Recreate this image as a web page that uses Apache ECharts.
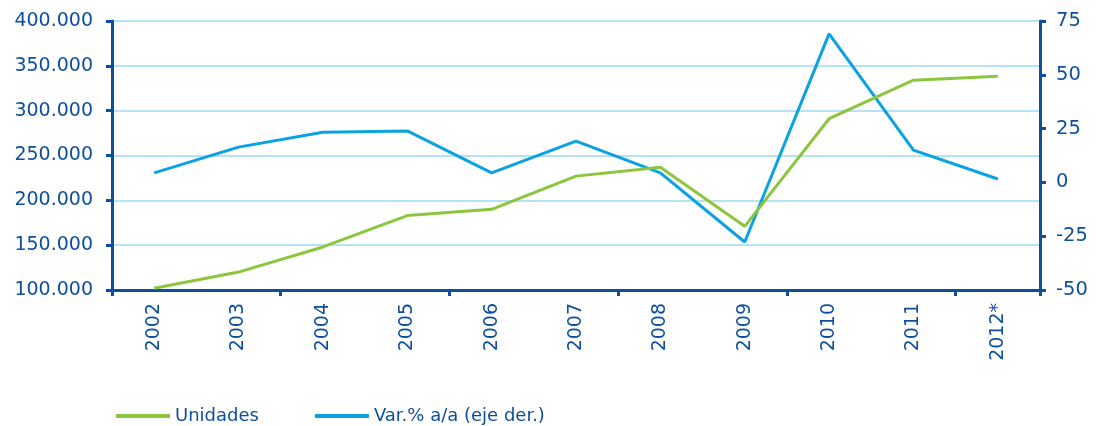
<!DOCTYPE html>
<html>
<head>
<meta charset="utf-8">
<script src="https://cdn.jsdelivr.net/npm/echarts@6/dist/echarts.min.js"></script>
<title>Unidades</title>
<style>
  html, body { margin: 0; padding: 0; background: #fff; }
  #main { width: 1098px; height: 426px; }
</style>
</head>
<body>
<div id="main"></div>
<script type="text/javascript">
// años
var years = ['2002', '2003', '2004', '2005', '2006', '2007', '2008', '2009', '2010', '2011', '2012*'];
// unidades (eje izq.)
var unidades = [102000, 120000, 148000, 183000, 190000, 227000, 237000, 171000, 291000, 334000, 338500];
// variación % a/a (eje der.)
var variacion = [4.4, 16.4, 23.3, 23.9, 4.4, 19.2, 4.4, -27.7, 69, 15, 1.6];

var azulOscuro = '#0d4f9e';
var fuente = 'DejaVu Sans';

var myChart = echarts.init(document.getElementById('main'));

var option = {
    animation: false,
    textStyle: { fontFamily: fuente },
    grid: { left: 112, right: 58, top: 21, bottom: 136, containLabel: false },
    legend: {
        left: 111,
        top: 402,
        itemWidth: 54,
        itemHeight: 4,
        itemGap: 56,
        icon: 'rect',
        textStyle: { color: azulOscuro, fontSize: 18, fontFamily: fuente },
        data: ['Unidades', 'Var.% a/a (eje der.)']
    },
    xAxis: {
        type: 'category',
        data: years,
        boundaryGap: true,
        axisLine: { onZero: false, lineStyle: { color: azulOscuro, width: 3 } },
        axisTick: { show: true, interval: 1, length: 6, lineStyle: { color: azulOscuro, width: 3 } },
        axisLabel: { rotate: 90, color: azulOscuro, fontSize: 19, margin: 13, interval: 0 }
    },
    yAxis: [{
        type: 'value',
        min: 100000,
        max: 400000,
        interval: 50000,
        position: 'left',
        axisLine: { show: true, lineStyle: { color: azulOscuro, width: 3 } },
        axisTick: { show: true, length: 6, lineStyle: { color: azulOscuro, width: 3 } },
        splitLine: { show: true, lineStyle: { color: '#b5e2f5', width: 2 } },
        axisLabel: {
            color: azulOscuro,
            fontSize: 19,
            margin: 19,
            formatter: function (v) {
                return String(v).replace(/\B(?=(\d{3})+(?!\d))/g, '.');
            }
        }
    }, {
        type: 'value',
        min: -50,
        max: 75,
        interval: 25,
        position: 'right',
        axisLine: { show: true, lineStyle: { color: azulOscuro, width: 3 } },
        axisTick: { show: true, length: 6, lineStyle: { color: azulOscuro, width: 3 } },
        splitLine: { show: false },
        axisLabel: { color: azulOscuro, fontSize: 19.5, margin: 16 }
    }],
    series: [{
        name: 'Unidades',
        type: 'line',
        yAxisIndex: 0,
        data: unidades,
        showSymbol: false,
        symbol: 'none',
        itemStyle: { color: '#8cc63f' },
        lineStyle: { color: '#8cc63f', width: 3 },
        z: 3
    }, {
        name: 'Var.% a/a (eje der.)',
        type: 'line',
        yAxisIndex: 1,
        data: variacion,
        showSymbol: false,
        symbol: 'none',
        itemStyle: { color: '#0aa2e2' },
        lineStyle: { color: '#0aa2e2', width: 3 },
        z: 2
    }]
};

myChart.setOption(option);
window.onresize = function () { myChart.resize(); };
</script>
</body>
</html>
